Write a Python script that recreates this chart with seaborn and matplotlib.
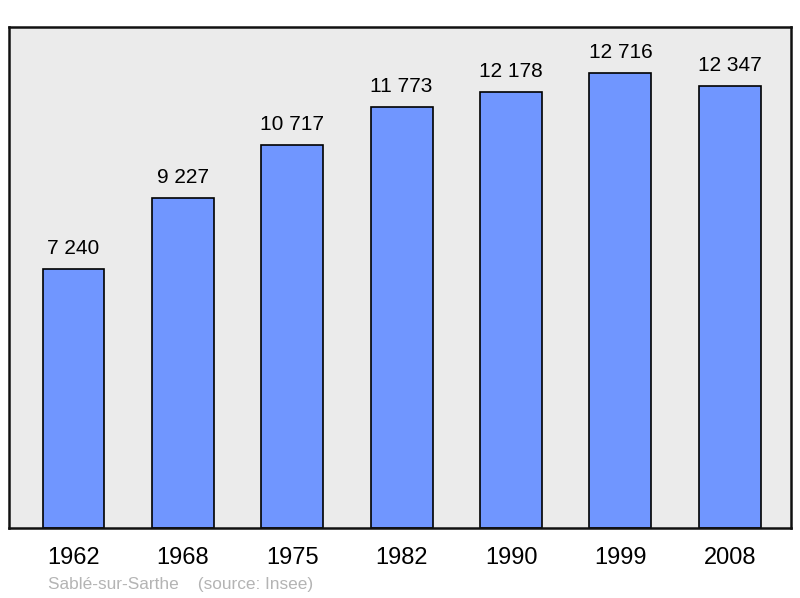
import matplotlib.pyplot as plt
import seaborn as sns
import pandas as pd

years = ['1962', '1968', '1975', '1982', '1990', '1999', '2008']
population = [7240, 9227, 10717, 11773, 12178, 12716, 12347]
value_labels = ['7 240', '9 227', '10 717', '11 773', '12 178', '12 716', '12 347']

sns.set_theme(style='white')
plt.rcParams['font.family'] = ['Liberation Sans', 'DejaVu Sans']

df = pd.DataFrame({'year': years, 'pop': population})

fig = plt.figure(figsize=(8, 5.98), dpi=100)
ax = fig.add_axes([9 / 800, 1 - 528 / 598, 782 / 800, 501 / 598])
ax.set_facecolor('#ebebeb')

sns.barplot(data=df, x='year', y='pop', color='#7096ff', saturation=1,
            width=0.566, edgecolor='black', linewidth=1.2, ax=ax)

for i, (v, lab) in enumerate(zip(population, value_labels)):
    ax.annotate(lab, (i, v), xytext=(0, 8), textcoords='offset points',
                ha='center', va='bottom', fontsize=15, color='black')

ax.set_xlim(-0.59, 6.56)
ax.set_ylim(0, 14006)
ax.set_yticks([])
ax.set_xlabel('')
ax.set_ylabel('')
ax.tick_params(axis='x', length=0, labelsize=17, pad=14, colors='black')
for s in ax.spines.values():
    s.set_visible(True)
    s.set_color('#111111')
    s.set_linewidth(1.8)

fig.text(48 / 800, 1 - 585 / 598, 'Sablé-sur-Sarthe    (source: Insee)',
         fontsize=12.4, color='#b4b4b4', ha='left', va='center')

fig.savefig('out.png', dpi=100)
